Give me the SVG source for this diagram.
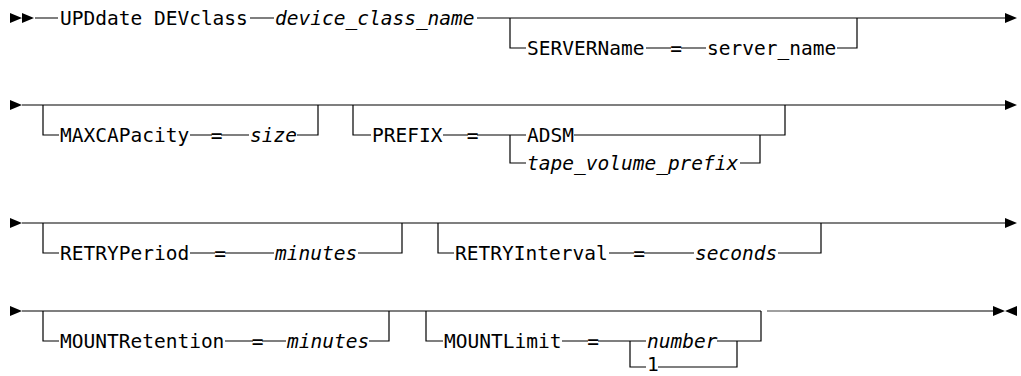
<svg xmlns="http://www.w3.org/2000/svg" width="1021" height="376" viewBox="0 0 1021 376">
<style>
text{font-family:"DejaVu Sans Mono","Liberation Mono",monospace;font-size:19.5px;fill:#000}
.v{font-style:italic}
.eq{text-anchor:middle}
.c{stroke:#000;stroke-width:1.2;fill:none}
.g{stroke:#888;stroke-width:1.6;fill:none}
.ah{fill:#000;stroke:none}
</style>
<rect width="1021" height="376" fill="#fff"/>
<g id="connectors">
<path class="c" d="M35 18H58M250 18H274M477 18H1005"/>
<path class="c" d="M510 18V48H526M646 48H671M681 48H706M837 48H857V18"/>
<path class="c" d="M22 105H1005"/>
<path class="c" d="M43 105V135H59M190 135H212M221 135H249M297 135H318V105"/>
<path class="c" d="M353 105V135H371M443 135H468M477 135H526M510 135V163H526M574 135H785V105M740 163H760V135"/>
<path class="c" d="M22 223H1005"/>
<path class="c" d="M43 223V253H59M190 253H215M225 253H274M358 253H402V223"/>
<path class="c" d="M438 223V253H454M609 253H634M644 253H694M778 253H821V223"/>
<path class="c" d="M22 311H761M790 311H993"/>
<path class="g" d="M767 311H790"/>
<path class="c" d="M43 311V341H59M225 341H253M262 341H286M369 341H389V311"/>
<path class="c" d="M426 311V341H443M562 341H588M598 341H646M630 341V367H646M717 341H761V311M658 367H737V341"/>
<path class="ah" d="M10 13L22 18L10 23ZM22 13L34 18L22 23ZM1005 13L1017 18L1005 23Z"/>
<path class="ah" d="M10 100L22 105L10 110ZM1005 100L1017 105L1005 110Z"/>
<path class="ah" d="M10 218L22 223L10 228ZM1005 218L1017 223L1005 228Z"/>
<path class="ah" d="M10 306L22 311L10 316ZM993 306L1005 311L993 316ZM1017 306L1005 311L1017 316Z"/>
</g>
<g id="cmd"><text x="60" y="25">UPDdate DEVclass</text></g>
<g id="devclass"><text class="v" x="275" y="25">device_class_name</text></g>
<g id="servername"><text x="527" y="55">SERVERName</text><text class="eq" x="676" y="55">=</text><text x="707" y="55">server_name</text></g>
<g id="maxcap"><text x="60" y="142">MAXCAPacity</text><text class="eq" x="216.5" y="142">=</text><text class="v" x="250" y="142">size</text></g>
<g id="prefix"><text x="372" y="142">PREFIX</text><text class="eq" x="472.5" y="142">=</text></g>
<g id="adsm"><text x="527" y="142">ADSM</text></g>
<g id="tapeprefix"><text class="v" x="527" y="170">tape_volume_prefix</text></g>
<g id="retryperiod"><text x="60" y="260">RETRYPeriod</text><text class="eq" x="220" y="260">=</text><text class="v" x="275" y="260">minutes</text></g>
<g id="retryinterval"><text x="455" y="260">RETRYInterval</text><text class="eq" x="639" y="260">=</text><text class="v" x="695" y="260">seconds</text></g>
<g id="mountretention"><text x="60" y="348">MOUNTRetention</text><text class="eq" x="257.5" y="348">=</text><text class="v" x="287" y="348">minutes</text></g>
<g id="mountlimit"><text x="444" y="348">MOUNTLimit</text><text class="eq" x="593" y="348">=</text></g>
<g id="number"><text class="v" x="647" y="348">number</text></g>
<g id="one"><text x="647" y="371">1</text></g>
</svg>
